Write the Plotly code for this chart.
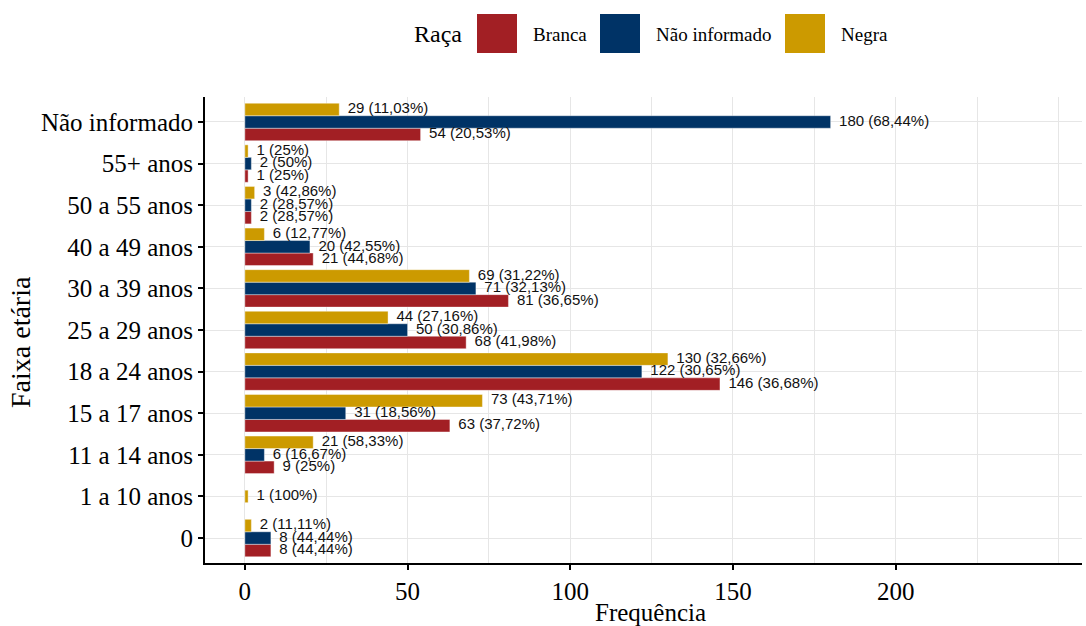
import plotly.graph_objects as go

# ---------------- data ----------------
categories = ["0", "1 a 10 anos", "11 a 14 anos", "15 a 17 anos", "18 a 24 anos",
              "25 a 29 anos", "30 a 39 anos", "40 a 49 anos", "50 a 55 anos",
              "55+ anos", "Não informado"]
branca = [8, None, 9, 63, 146, 68, 81, 21, 2, 1, 54]
nao_informado = [8, None, 6, 31, 122, 50, 71, 20, 2, 2, 180]
negra = [2, 1, 21, 73, 130, 44, 69, 6, 3, 1, 29]
x_ticks = [0, 50, 100, 150, 200]

series_names = ["Branca", "Não informado", "Negra"]
series_values = [branca, nao_informado, negra]
series_colors = ["#A21F24", "#003366", "#CC9A00"]

SERIF = "Liberation Serif, Times New Roman, serif"
SANS = "Liberation Sans, Arial, sans-serif"

# ---------------- helpers ----------------
def fmt_pct(p):
    s = f"{p:.2f}".rstrip("0").rstrip(".")
    return s.replace(".", ",")

BAR_W = 0.3
LABEL_NUDGE = 2.6  # label gap after bar end, in axis units
totals = [sum(v[i] for v in series_values if v[i] is not None) for i in range(len(categories))]

fig = go.Figure()
for si, (name, vals, col) in enumerate(zip(series_names, series_values, series_colors)):
    xs, ys, labels = [], [], []
    for ci in range(len(categories)):
        v = vals[ci]
        if v is None:
            continue
        present = [k for k in range(len(series_values)) if series_values[k][ci] is not None]
        n = len(present)
        pos = present.index(si)
        ys.append(ci + (pos - (n - 1) / 2) * BAR_W)
        xs.append(v)
        labels.append(f"{v} ({fmt_pct(100 * v / totals[ci])}%)")
    fig.add_trace(go.Bar(x=xs, y=ys, orientation="h", width=BAR_W, name=name,
                         marker=dict(color=col, line=dict(color="white", width=0.4)),
                         showlegend=False, hoverinfo="skip"))
    fig.add_trace(go.Scatter(x=[x + LABEL_NUDGE for x in xs], y=ys, mode="text", text=labels,
                             textposition="middle right",
                             textfont=dict(family=SANS, size=15, color="#111111"),
                             showlegend=False, hoverinfo="skip", cliponaxis=False))

# ---------------- layout geometry ----------------
L, R, T, B = 205, 4, 97, 63
W, H = 1086, 626
PW, PH = W - L - R, H - T - B

def px(x):
    return (x - L) / PW

def py(y):
    return (H - B - y) / PH

shapes, annotations = [], []
# manual legend (large square keys)
annotations.append(dict(text="Raça", x=px(412), y=py(34), xref="paper", yref="paper",
                        xanchor="left", yanchor="middle", showarrow=False,
                        font=dict(family=SERIF, size=24, color="black")))
legend_items = [(477, 531), (600, 654), (785, 839)]
for (sx, tx), name, col in zip(legend_items, series_names, series_colors):
    shapes.append(dict(type="rect", xref="paper", yref="paper",
                       x0=px(sx), x1=px(sx + 40), y0=py(53), y1=py(14),
                       fillcolor=col, line=dict(width=0)))
    annotations.append(dict(text=name, x=px(tx), y=py(34), xref="paper", yref="paper",
                            xanchor="left", yanchor="middle", showarrow=False,
                            font=dict(family=SERIF, size=19, color="black")))
# axis titles
annotations.append(dict(text="Frequência", x=px(650), y=py(612), xref="paper", yref="paper",
                        xanchor="center", yanchor="middle", showarrow=False,
                        font=dict(family=SERIF, size=25, color="black")))
annotations.append(dict(text="Faixa etária", x=px(20), y=py(342), xref="paper", yref="paper",
                        xanchor="center", yanchor="middle", showarrow=False, textangle=-90,
                        font=dict(family=SERIF, size=28, color="black")))

GRID = "#E6E6E6"
fig.update_layout(
    width=W, height=H,
    margin=dict(l=L, r=R, t=T, b=B, pad=0),
    plot_bgcolor="white", paper_bgcolor="white",
    barmode="overlay",
    shapes=shapes, annotations=annotations,
    xaxis=dict(range=[-12.25, 257.25], tickvals=x_ticks, ticktext=[str(t) for t in x_ticks],
               showgrid=True, gridcolor=GRID, gridwidth=1.4,
               minor=dict(dtick=25, tick0=0, showgrid=True, gridcolor=GRID, gridwidth=1.2),
               zeroline=False, showline=True, linecolor="black", linewidth=2,
               ticks="outside", ticklen=5, tickwidth=1.5, tickcolor="black",
               tickfont=dict(family=SERIF, size=25, color="black"), automargin=False),
    yaxis=dict(range=[-0.6, 10.6], tickvals=list(range(len(categories))), ticktext=categories,
               showgrid=True, gridcolor=GRID, gridwidth=1.4,
               zeroline=False, showline=True, linecolor="black", linewidth=2,
               ticks="outside", ticklen=5, tickwidth=1.5, tickcolor="black",
               tickfont=dict(family=SERIF, size=25, color="black"), automargin=False),
)

fig.write_html("out.html", config={"displayModeBar": False},
               post_script="document.body.style.margin='0px';")
